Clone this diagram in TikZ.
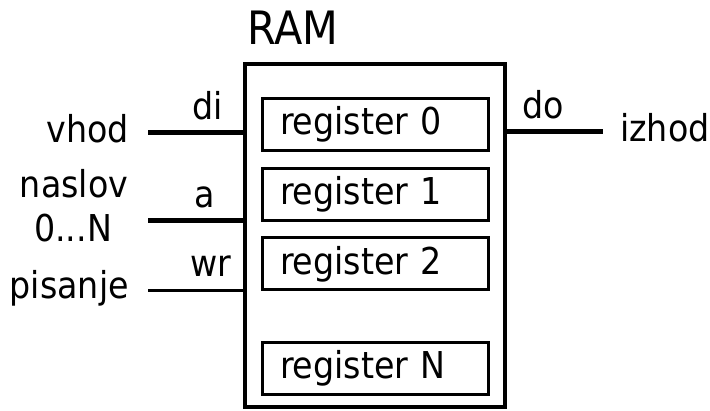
\documentclass[tikz,border=0pt]{standalone}
\usepackage{fontspec}
\setmainfont{DejaVu Sans Condensed}
\usetikzlibrary{positioning}

\begin{document}
\begin{tikzpicture}[x=1pt, y=-1pt,
  lbl/.style={inner sep=0pt, font=\fontsize{37}{41}\selectfont},
  reg/.style={draw, line width=3pt, minimum width=226pt, minimum height=52pt, text width=190pt, inner xsep=18pt, inner ysep=0pt, align=left, font=\fontsize{37}{41}\selectfont},
  bus/.style={line width=5pt},
  wire/.style={line width=3pt}
]
\useasboundingbox (0,0) rectangle (710,411);

% memory block and its registers
\node[draw, line width=4pt, minimum width=260pt, minimum height=343pt, inner sep=0pt] (ram) at (375,235.5) {};
\node[lbl, font=\fontsize{46}{50}\selectfont, anchor=base west] (ramname) at (247,45) {RAM};
\foreach \i/\y in {0/124.5,1/194.5,2/264,N/368.5}
  \node[reg] (reg\i) at (375,\y) {register \i};

% inputs
\coordinate (vhodpin) at (148,133);
\coordinate (naslovpin) at (148,221);
\coordinate (pisanjepin) at (148,291);
\draw[bus] (vhodpin) -- (vhodpin -| ram.west);
\draw[bus] (naslovpin) -- (naslovpin -| ram.west);
\draw[wire] (pisanjepin) -- (pisanjepin -| ram.west);

\node[lbl, anchor=base east] (vhod) at (129,143) {vhod};
\node[lbl, anchor=base] (naslov) at (74,198) {naslov};
\node[lbl, anchor=base] (naslovn) at (73,242) {0...N};
\node[lbl, anchor=base east] (pisanje) at (129,299) {pisanje};

\node[lbl, anchor=base west] (di) at (192,120) {di};
\node[lbl, anchor=base west] (a) at (194,208) {a};
\node[lbl, anchor=base west] (wr) at (190,277) {wr};

% output
\coordinate (izhodpin) at (603,132);
\draw[bus] (ram.east |- izhodpin) -- (izhodpin);
\node[lbl, anchor=base west] (do) at (522,119) {do};
\node[lbl, anchor=base west] (izhod) at (620,142) {izhod};
\end{tikzpicture}
\end{document}
